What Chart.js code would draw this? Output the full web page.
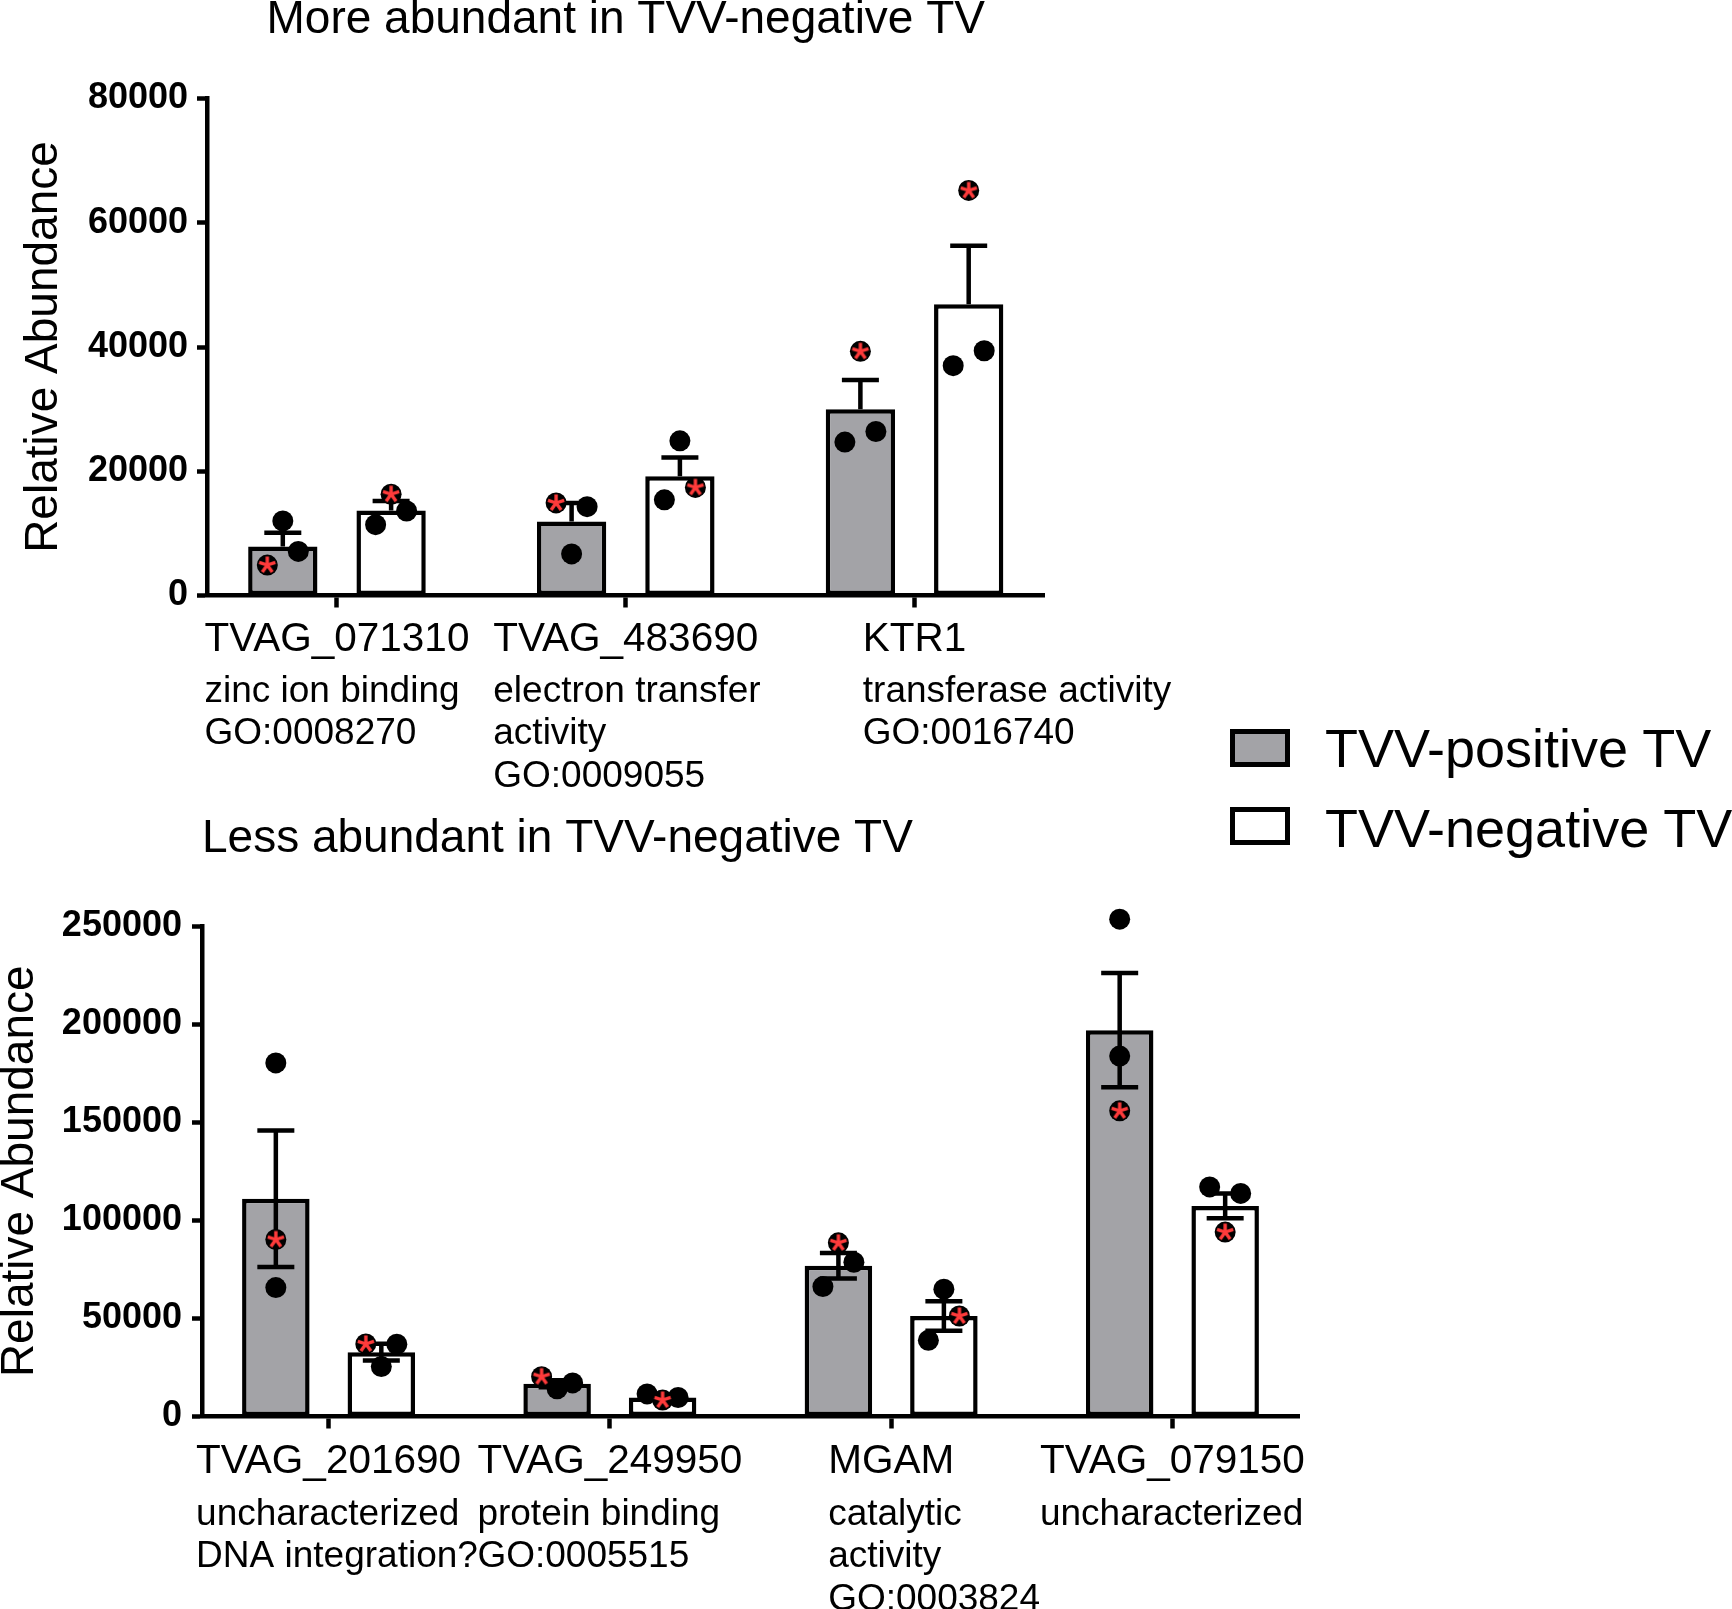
<!DOCTYPE html>
<html>
<head>
<meta charset="utf-8">
<title>Relative Abundance</title>
<script src="https://cdn.jsdelivr.net/npm/chart.js@4.4.1/dist/chart.umd.min.js"></script>
<style>
  html, body { margin: 0; padding: 0; background: #fff; }
  body { position: relative; width: 1732px; height: 1609px; overflow: hidden; font-family: "Liberation Sans", Arial, sans-serif; }
  canvas { position: absolute; }
  #chartTop { left: 0; top: -4px; }
  #chartBottom { left: -10px; top: 790px; }
  .key { position: absolute; left: 1230px; width: 60px; height: 38px; box-sizing: border-box; border: 5px solid #000; }
  .keyText { position: absolute; left: 1325px; font-size: 54px; line-height: 54px; color: #000; white-space: nowrap; }
</style>
</head>
<body>
<canvas id="chartTop" width="1200" height="800"></canvas>
<canvas id="chartBottom" width="1360" height="819"></canvas>
<div class="key" id="keyPos" style="top:729px"></div>
<div class="keyText" style="top:721px">TVV-positive TV</div>
<div class="key" id="keyNeg" style="top:807px"></div>
<div class="keyText" style="top:801px">TVV-negative TV</div>
<script>
// values (relative abundance)
const topCategories = ['TVAG_071310', 'TVAG_483690', 'KTR1'];
const topDescriptions = [
  ['zinc ion binding', 'GO:0008270'],
  ['electron transfer', 'activity', 'GO:0009055'],
  ['transferase activity', 'GO:0016740']
];
const topYTicks = [0, 20000, 40000, 60000, 80000];
const topPosMean = [7900, 11900, 30000];
const topPosSem = [2200, 3000, 4700];
const topNegMean = [13700, 19200, 46900];
const topNegSem = [1500, 3000, 9400];
// replicate values, left to right inside each bar
const topPosPoints = [[4900, 12000, 7100], [14900, 6700, 14300], [24700, 39300, 26400]];
const topNegPoints = [[11400, 16300, 13600], [15400, 24900, 17400], [37000, 65200, 39400]];
// which replicate is the marked (red asterisk) one
const topPosStar = [0, 0, 1];
const topNegStar = [1, 2, 1];

const botCategories = ['TVAG_201690', 'TVAG_249950', 'MGAM', 'TVAG_079150'];
const botDescriptions = [
  ['uncharacterized', 'DNA integration?'],
  ['protein binding', 'GO:0005515'],
  ['catalytic', 'activity', 'GO:0003824'],
  ['uncharacterized']
];
const botYTicks = [0, 50000, 100000, 150000, 200000, 250000];
const botPosMean = [111000, 16700, 76800, 196900];
const botPosSem = [34800, 1800, 6500, 29100];
const botNegMean = [32800, 9700, 51200, 107300];
const botNegSem = [4300, 900, 7500, 6300];
const botPosPoints = [[180200, 90200, 65700], [20300, 14100, 17100], [66200, 88500, 78600], [253500, 183700, 155800]];
const botNegPoints = [[37000, 25500, 36800], [11500, 8400, 9700], [38800, 64900, 51200], [117000, 113700, 94000]];
const botPosStar = [1, 0, 1, 2];
const botNegStar = [0, 1, 2, 2];

// styling
const FONT = '"Liberation Sans", Arial, sans-serif';
const GRAY = '#a3a3a7';
const STAR_RED = '#ff3b3b';
const LINE_W = 4.5;
const CAT_PCT = 0.75;
const BAR_PCT = 0.64;
const POINT_R = 10.5;
const LANE = 15.5;   // sideways step between touching dots (px)
const TOUCH = 25.5;  // dots closer than this vertically get spread (px)
const CAP_W = 37;
const LABEL_SIZE = 40.5;
const DESC_SIZE = 37;
const DESC_GAP = 42.5;

Chart.defaults.font.family = FONT;
Chart.defaults.color = '#000';

document.getElementById('keyPos').style.background = GRAY;
document.getElementById('keyNeg').style.background = '#fff';

// five-armed red asterisk used as point style
function makeAsterisk() {
  const c = document.createElement('canvas');
  c.width = 22;
  c.height = 22;
  const g = c.getContext('2d');
  g.strokeStyle = STAR_RED;
  g.lineWidth = 3.4;
  g.translate(11, 11);
  g.beginPath();
  for (let k = 0; k < 5; k++) {
    const a = -Math.PI / 2 + k * 2 * Math.PI / 5;
    g.moveTo(0, 0);
    g.lineTo(8.5 * Math.cos(a), 8.5 * Math.sin(a));
  }
  g.stroke();
  return c;
}
const asterisk = makeAsterisk();

// SEM error bars drawn right after each bar dataset
const errorBars = {
  id: 'errorBars',
  afterDatasetDraw(chart, args, opts) {
    if (args.meta.type !== 'bar') return;
    const ds = chart.data.datasets[args.index];
    const y = chart.scales.y;
    const ctx = chart.ctx;
    ctx.save();
    ctx.strokeStyle = '#000';
    ctx.lineWidth = LINE_W;
    ctx.beginPath();
    args.meta.data.forEach((bar, i) => {
      const mean = ds.data[i].y;
      const hi = y.getPixelForValue(mean + ds.errors[i]);
      const lo = y.getPixelForValue(opts.bothWays ? mean - ds.errors[i] : mean);
      ctx.moveTo(bar.x, lo);
      ctx.lineTo(bar.x, hi);
      ctx.moveTo(bar.x - CAP_W / 2, hi);
      ctx.lineTo(bar.x + CAP_W / 2, hi);
      if (opts.bothWays) {
        ctx.moveTo(bar.x - CAP_W / 2, lo);
        ctx.lineTo(bar.x + CAP_W / 2, lo);
      }
    });
    ctx.stroke();
    ctx.restore();
  }
};

// GO term lines under each gene label, left aligned with the label
const descriptions = {
  id: 'descriptions',
  afterDraw(chart, args, opts) {
    const x = chart.scales.x;
    const ctx = chart.ctx;
    ctx.save();
    ctx.fillStyle = '#000';
    ctx.textBaseline = 'middle';
    ctx.textAlign = 'left';
    opts.lines.forEach((lines, i) => {
      ctx.font = LABEL_SIZE + 'px ' + FONT;
      const left = x.getPixelForValue(i) - ctx.measureText(opts.labels[i]).width / 2;
      ctx.font = DESC_SIZE + 'px ' + FONT;
      lines.forEach((t, j) => ctx.fillText(t, left, chart.chartArea.bottom + opts.top + j * DESC_GAP));
    });
    ctx.restore();
  }
};

function barSet(label, means, errs, fill) {
  return {
    label: label,
    type: 'bar',
    data: means.map((v, i) => ({x: i, y: v})),
    errors: errs,
    backgroundColor: fill,
    borderColor: '#000',
    borderWidth: LINE_W,
    borderSkipped: false,
    categoryPercentage: CAT_PCT,
    barPercentage: BAR_PCT,
    order: 2
  };
}

function makeChart(id, o) {
  return new Chart(document.getElementById(id), {
    type: 'bar',
    data: {
      datasets: [
        barSet('TVV-positive TV', o.pos, o.posErr, GRAY),
        barSet('TVV-negative TV', o.neg, o.negErr, '#fff'),
        {type: 'scatter', label: 'replicates', data: [], pointRadius: POINT_R, pointHoverRadius: POINT_R,
         backgroundColor: '#000', borderWidth: 0, order: 1, clip: false},
        {type: 'scatter', label: 'marked replicate', data: [], pointStyle: asterisk, pointRadius: 8,
         pointHoverRadius: 8, order: 0, clip: false}
      ]
    },
    options: {
      responsive: false,
      animation: false,
      events: [],
      layout: {padding: o.padding},
      plugins: {
        legend: {display: false},
        tooltip: {enabled: false},
        title: {
          display: true, text: o.title, fullSize: false, align: o.titleAlign, color: '#000',
          font: {size: 46, weight: 'normal', lineHeight: 1}, padding: o.titlePad
        },
        errorBars: {bothWays: o.bothWays},
        descriptions: {labels: o.categories, lines: o.descriptions, top: o.descTop}
      },
      scales: {
        x: {
          type: 'linear',
          offset: false,
          min: -0.45,
          max: o.categories.length - 0.55,
          afterBuildTicks: ax => { ax.ticks = o.categories.map((c, i) => ({value: i})); },
          afterFit: ax => { ax.height = o.xHeight; },
          ticks: {callback: v => o.categories[v], font: {size: LABEL_SIZE}, padding: o.xPad, maxRotation: 0, autoSkip: false},
          grid: {offset: false, drawOnChartArea: false, drawTicks: true, tickLength: 12, tickWidth: LINE_W, tickColor: '#000'},
          border: {display: true, width: LINE_W, color: '#000'}
        },
        y: {
          min: 0,
          max: o.yTicks[o.yTicks.length - 1],
          afterBuildTicks: ax => { ax.ticks = o.yTicks.map(v => ({value: v})); },
          afterFit: ax => { ax.width = o.yWidth; },
          ticks: {callback: v => String(v), font: {size: 36, weight: 'bold'}, padding: o.yPad},
          title: {display: true, text: 'Relative Abundance', color: '#000',
                  font: {size: 46, lineHeight: 1}, padding: {top: o.yTitlePad, bottom: 0}},
          grid: {drawOnChartArea: false, drawTicks: true, tickLength: 10, tickWidth: LINE_W, tickColor: '#000'},
          border: {display: true, width: LINE_W, color: '#000'}
        }
      }
    },
    plugins: [errorBars, descriptions]
  });
}

// place replicate dots: isolated dots sit on the bar centre, touching ones spread sideways
function spread(chart, groups, stars, shift) {
  const x = chart.scales.x;
  const y = chart.scales.y;
  const catPx = x.getPixelForValue(1) - x.getPixelForValue(0);
  const dots = [];
  const marked = [];
  groups.forEach((vals, g) => {
    const byValue = vals.map((v, k) => k).sort((a, b) => vals[a] - vals[b]);
    const clusters = [[byValue[0]]];
    for (let j = 1; j < byValue.length; j++) {
      const gap = Math.abs(y.getPixelForValue(vals[byValue[j]]) - y.getPixelForValue(vals[byValue[j - 1]]));
      if (gap < TOUCH) clusters[clusters.length - 1].push(byValue[j]);
      else clusters.push([byValue[j]]);
    }
    clusters.forEach(c => {
      c.sort((a, b) => a - b);
      c.forEach((k, m) => {
        const lane = c.length > 1 ? -1 + 2 * m / (c.length - 1) : 0;
        const pt = {x: g + shift + lane * LANE / catPx, y: vals[k]};
        dots.push(pt);
        if (k === stars[g]) marked.push(pt);
      });
    });
  });
  return {dots, marked};
}

function addDots(chart, posPts, posStar, negPts, negStar) {
  const a = spread(chart, posPts, posStar, -CAT_PCT / 4);
  const b = spread(chart, negPts, negStar, CAT_PCT / 4);
  chart.data.datasets[2].data = a.dots.concat(b.dots);
  chart.data.datasets[3].data = a.marked.concat(b.marked);
  chart.update('none');
}

const topChart = makeChart('chartTop', {
  title: 'More abundant in TVV-negative TV',
  titleAlign: 'center',
  titlePad: {top: 1, bottom: 55.5},
  categories: topCategories,
  descriptions: topDescriptions,
  yTicks: topYTicks,
  pos: topPosMean, posErr: topPosSem,
  neg: topNegMean, negErr: topNegSem,
  bothWays: false,
  padding: {left: 0, right: 155.5, top: 0, bottom: 0},
  yWidth: 207, yPad: 9, yTitlePad: 21,
  xHeight: 200.5, xPad: 8,
  descTop: 96
});
addDots(topChart, topPosPoints, topPosStar, topNegPoints, topNegStar);

const botChart = makeChart('chartBottom', {
  title: 'Less abundant in TVV-negative TV',
  titleAlign: 'start',
  titlePad: {top: 26.5, bottom: 63.5},
  categories: botCategories,
  descriptions: botDescriptions,
  yTicks: botYTicks,
  pos: botPosMean, posErr: botPosSem,
  neg: botNegMean, negErr: botNegSem,
  bothWays: true,
  padding: {left: 0, right: 51, top: 0, bottom: 0},
  yWidth: 212, yPad: 10, yTitlePad: 7,
  xHeight: 192.5, xPad: 9,
  descTop: 98
});
addDots(botChart, botPosPoints, botPosStar, botNegPoints, botNegStar);
</script>
</body>
</html>
